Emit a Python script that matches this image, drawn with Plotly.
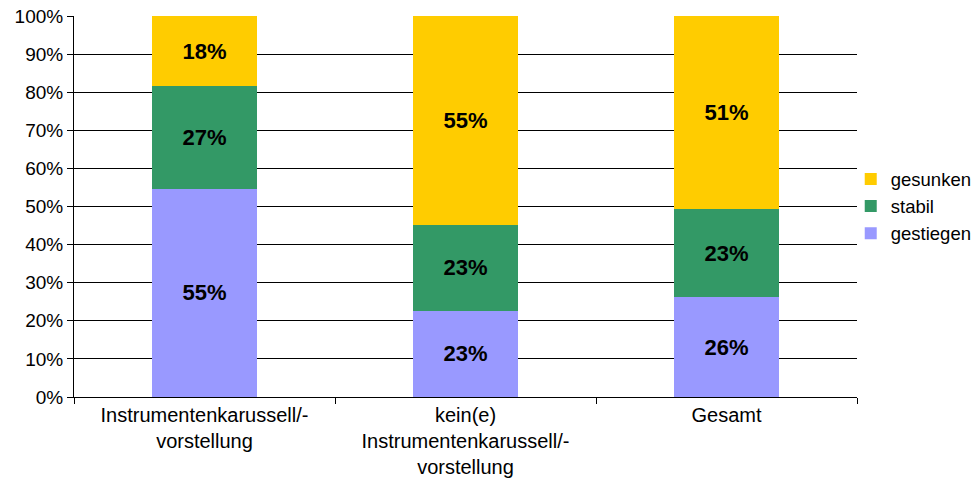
import plotly.graph_objects as go

categories = ["Instrumentenkarussell/-<br>vorstellung",
              "kein(e)<br>Instrumentenkarussell/-<br>vorstellung",
              "Gesamt"]
gestiegen = [54.6, 22.6, 26.2]
stabil = [27.0, 22.6, 23.1]
gesunken = [18.4, 54.8, 50.7]
y_ticks = [0, 10, 20, 30, 40, 50, 60, 70, 80, 90, 100]
y_tick_labels = [f"{v}%" for v in y_ticks]

series = [("gestiegen", gestiegen, "#9999FF"),
          ("stabil", stabil, "#339966"),
          ("gesunken", gesunken, "#FFCC00")]

FONT = "Liberation Sans, Arial, sans-serif"

fig = go.Figure()
for name, vals, color in series:
    fig.add_trace(go.Bar(
        x=categories, y=vals, name=name,
        marker=dict(color=color, line=dict(width=0)),
        texttemplate="%{y:.0f}%", textposition="inside",
        insidetextanchor="middle", constraintext="none",
        textfont=dict(family=FONT, size=22, color="black", weight="bold"),
        hoverinfo="skip",
    ))

fig.update_layout(
    barmode="stack", bargap=0.6,
    width=979, height=487,
    margin=dict(l=74, r=122, t=16, b=90, autoexpand=False),
    paper_bgcolor="white", plot_bgcolor="white",
    font=dict(family=FONT, size=19, color="black"),
    showlegend=True,
    legend=dict(x=0.992, xanchor="left", y=0.5, yanchor="middle",
                traceorder="reversed", font=dict(size=18.5),
                itemwidth=30, tracegroupgap=0, bgcolor="rgba(0,0,0,0)"),
    xaxis=dict(showline=True, linecolor="black", linewidth=1,
               ticks="outside", tickson="boundaries", ticklen=6,
               tickcolor="black", showgrid=False, fixedrange=True,
               automargin=False, tickfont=dict(size=20),
               ticklabeloverflow="allow"),
    yaxis=dict(range=[0, 100], tickvals=y_ticks, ticktext=y_tick_labels,
               showline=True, linecolor="black", linewidth=1,
               ticks="outside", ticklen=6, tickcolor="black",
               showgrid=True, gridcolor="black", gridwidth=1,
               zeroline=False, fixedrange=True, automargin=False,
               tickfont=dict(size=19), ticklabeloverflow="allow"),
)

fig.write_html("out.html",
               config={"displayModeBar": False},
               post_script="document.body.style.margin='0';document.body.style.overflow='hidden';")
